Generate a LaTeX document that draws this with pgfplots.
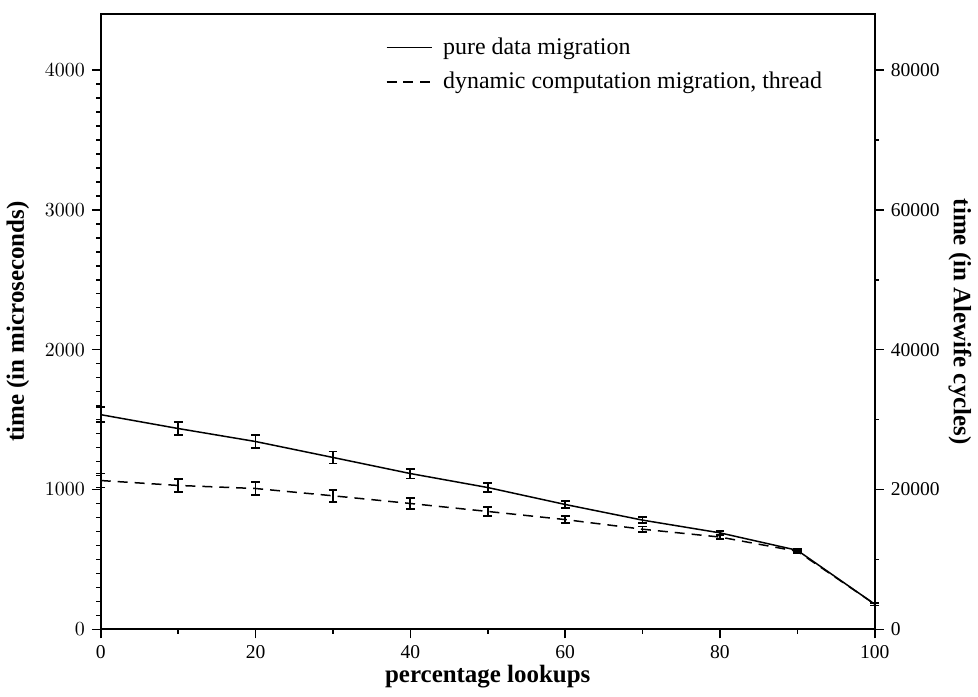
\documentclass[border=0pt]{standalone}
\usepackage{fontspec}
\setmainfont{Liberation Serif}
\usepackage{pgfplots}
\pgfplotsset{compat=1.18}

\pgfplotsset{
  common/.style={
    scale only axis,
    width=388pt, height=308.5pt,
    xmin=0, xmax=100,
    axis line style={black, line width=1pt},
    tick align=outside,
    major tick length=4.5pt,
    minor tick length=2.2pt,
    every tick/.style={black, line width=0.8pt},
    tick label style={font=\fontsize{9.8}{11}\selectfont},
    label style={font=\fontsize{12.5}{15}\selectfont\bfseries},
    scaled y ticks=false,
    /pgf/number format/1000 sep={},
  },
  ebar/.style={
    error bars/.cd, y dir=both, y explicit,
    error bar style={solid, line width=0.9pt},
    error mark options={black, solid, rotate=90, mark size=2.2pt, line width=0.9pt},
  },
}

\begin{document}
\begin{tikzpicture}
\begin{axis}[
  common,
  clip=false,
  ymin=0, ymax=4400,
  xtick={0,20,...,100}, minor x tick num=1,
  ytick={0,1000,...,4000}, minor y tick num=9,
  xtick pos=bottom, ytick pos=left,
  xticklabel={\pgfmathprintnumber[assume math mode=true]{\tick}},
  xlabel={percentage lookups},
  ylabel={time (in microseconds)},
  xlabel style={at={(axis description cs:0.5,-0.076)}, anchor=center},
  ylabel style={at={(axis description cs:-0.107,0.5)}, anchor=center},
  legend style={at={(axis description cs:0.36,0.975)}, anchor=north west,
    draw=none, fill=none, font=\fontsize{12}{14}\selectfont, row sep=3.5pt},
  legend cell align=left,
  legend image code/.code={\draw[#1] (0pt,0pt) -- (23pt,0pt); \path (26pt,0pt);},
]
\addplot[black, line width=0.75pt, no markers, ebar] coordinates {
  (0,1535) +- (0,55)
  (10,1436) +- (0,48)
  (20,1343) +- (0,48)
  (30,1229) +- (0,43)
  (40,1114) +- (0,35)
  (50,1014) +- (0,30)
  (60,893) +- (0,25)
  (70,781) +- (0,20)
  (80,690) +- (0,15)
  (90,565) +- (0,12)
  (100,180) +- (0,10)
};
\addlegendentry{pure data migration}
\addplot[black, line width=0.75pt, no markers, dash pattern=on 5pt off 3.5pt, ebar] coordinates {
  (0,1064) +- (0,50)
  (10,1029) +- (0,46)
  (20,1007) +- (0,48)
  (30,955) +- (0,42)
  (40,900) +- (0,37)
  (50,843) +- (0,30)
  (60,785) +- (0,25)
  (70,716) +- (0,20)
  (80,660) +- (0,15)
  (90,558) +- (0,12)
  (100,180) +- (0,10)
};
\addlegendentry{dynamic computation migration, thread}
\path (axis description cs:-0.1302,-0.1086) rectangle (axis description cs:1.1302,1.0227);
\end{axis}
\begin{axis}[
  common,
  ymin=0, ymax=88000,
  axis x line=none,
  axis y line*=right,
  ytick={0,20000,...,80000}, minor y tick num=1,
  yticklabel={\pgfmathprintnumber[assume math mode=true]{\tick}},
  ylabel={time (in Alewife cycles)},
  ylabel style={at={(axis description cs:1.11,0.5)}, anchor=center, rotate=180},
]
\end{axis}
\end{tikzpicture}
\end{document}
